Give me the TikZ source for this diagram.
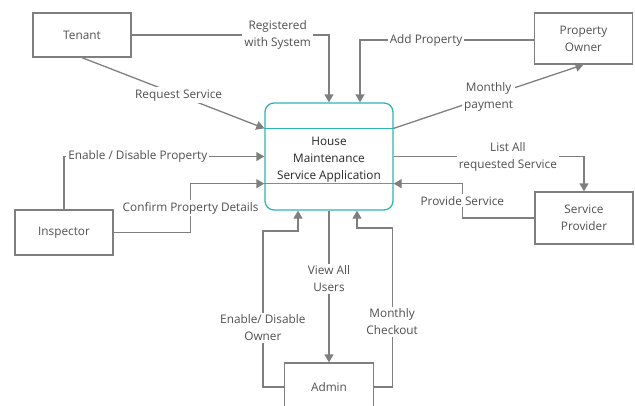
\documentclass[tikz,border=0pt]{standalone}
\usepackage{fontspec}
\setmainfont{Open Sans}
\usetikzlibrary{arrows.meta}
\definecolor{linegray}{HTML}{7F7F7F}
\definecolor{textgray}{HTML}{505050}
\definecolor{appteal}{HTML}{2EB3B3}

\begin{document}
\begin{tikzpicture}[x=1pt, y=-1pt,
    font=\fontsize{11.8}{17}\selectfont,
    actor/.style={draw=linegray, line width=1.3pt, text=textgray, align=center,
      minimum width=98pt, inner sep=0pt},
    appbox/.style={draw=appteal, line width=1.3pt, rounded corners=9pt,
      minimum width=128pt, minimum height=107pt, inner sep=0pt},
    flow/.style={draw=linegray, line width=1.3pt, -{Triangle[length=8pt,width=9pt]}},
    lbl/.style={fill=white, text=textgray, align=center, inner sep=2pt}]
  \useasboundingbox (0,0) rectangle (635,405);

  \node[actor, minimum height=44pt] (tenant) at (82,35) {Tenant};
  \node[actor, minimum height=51pt] (owner) at (583.5,38.5) {Property\\Owner};
  \node[actor, minimum height=45pt] (inspector) at (64,232.5) {Inspector};
  \node[actor, minimum height=52pt] (provider) at (584,218) {Service\\Provider};
  \node[actor, minimum width=89pt, minimum height=48pt] (admin) at (329,387) {Admin};

  \node[appbox] (app) at (329,156.5) {};
  \node[align=center, text=black!85] (apptitle) at (329,160)
    {House\\Maintenance\\Service Application};
  \draw[appteal, line width=1.3pt] ([yshift=-26pt]app.north west) -- ([yshift=-26pt]app.north east);
  \draw[appteal, line width=1.3pt] ([yshift=27pt]app.south west) -- ([yshift=27pt]app.south east);

  \draw[flow] (tenant.east) -| node[lbl, pos=0.37] {Registered\\with System} (app.north);
  \draw[flow] ([yshift=-1.5pt]owner.west) -| node[lbl, pos=0.31] {Add Property} ([xshift=31pt]app.north);
  \draw[flow] (tenant.south) -- node[lbl, pos=0.53] {Request Service} ([yshift=-26pt]app.north west);
  \draw[flow] ([yshift=-26pt]app.north east) -- node[lbl, pos=0.5] {Monthly\\payment} (owner.south);
  \draw[flow] (inspector.north) |- node[lbl, pos=0.684] {Enable / Disable Property} (app.west);
  \draw[flow] (inspector.east) -- ++(77,0) |- node[lbl, pos=0.25] {Confirm Property Details} ([yshift=27pt]app.south west);
  \draw[flow] (app.east) -| node[lbl, pos=0.3] {List All\\requested Service} (provider.north);
  \draw[flow] (provider.west) -- ++(-72,0) |- node[lbl, pos=0.25] {Provide Service} ([yshift=27pt]app.south east);
  \draw[flow] (admin.west) -- ++(-21,0) -- node[lbl, pos=0.38] {Enable/ Disable\\Owner} ++(0,-156) -| ([xshift=-31pt]app.south);
  \draw[flow] (app.south) -- node[lbl, pos=0.45] {View All\\Users} (admin.north);
  \draw[flow] (admin.east) -- ++(18,0) -- node[lbl, pos=0.41] {Monthly\\Checkout} ++(0,-159) -| ([xshift=28pt]app.south);
\end{tikzpicture}
\end{document}
